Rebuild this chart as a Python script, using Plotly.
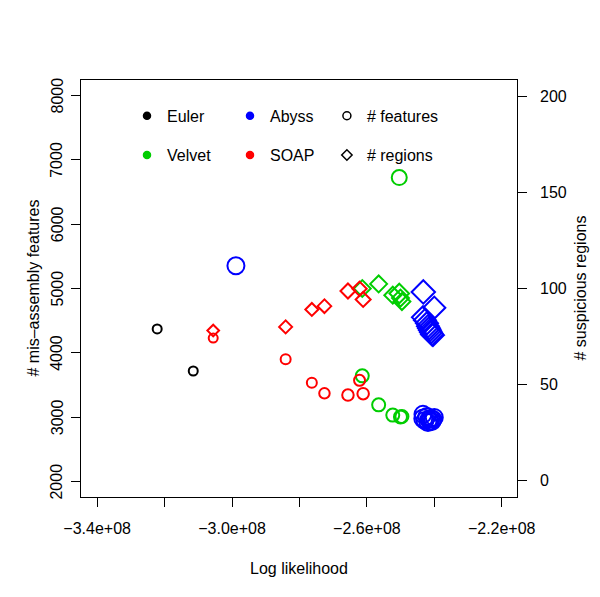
import plotly.graph_objects as go

# ---------------- data ----------------
# Log likelihood (x), # mis-assembly features (left axis), # suspicious regions (right axis)
euler_loglik = [-3.222e8, -3.115e8]
euler_features = [4372, 3718]
euler_regions = [None, None]
euler_size = [9, 9]

velvet_loglik = [-2.6136e8, -2.5650e8, -2.5231e8, -2.5039e8, -2.5003e8, -2.4960e8]
velvet_features = [3643, 3192, 3033, 6724, 3005, 3010]
velvet_regions = [100.0, 102.4, 96.5, 97.4, 95.0, 93.2]
velvet_size = [13, 13, 13, 15, 13, 13]

abyss_loglik = [-2.9884e8, -2.4326e8, -2.4000e8, -2.4335e8, -2.4276e8, -2.4217e8,
                -2.4187e8, -2.4157e8, -2.4128e8, -2.4098e8, -2.4068e8, -2.4039e8]
abyss_features = [5354, 2981, 2997, 3044, 2950, 3012, 2919, 2966, 2935, 2981, 2935, 2966]
abyss_regions = [None, 98.2, 90.0, 85.0, 83.5, 81.9, 80.4, 79.3, 78.3, 77.2, 76.2, 75.7]
abyss_size = [17, 18, 17, 17, 17, 17, 17, 17, 17, 17, 17, 17]

soap_loglik = [-3.0558e8, -2.8409e8, -2.7632e8, -2.7258e8, -2.6561e8, -2.6217e8, -2.6110e8]
soap_features = [4230, 3900, 3537, 3371, 3344, 3573, 3366]
soap_regions = [78.1, 80.0, 89.1, 90.8, 98.7, 99.9, 94.3]
soap_size = [9, 10, 10, 10.5, 11.5, 11, 11.5]

x_tickvals = [-3.4e8, -3.2e8, -3.0e8, -2.8e8, -2.6e8, -2.4e8, -2.2e8]
x_ticktext = ["\u22123.4e+08", "", "\u22123.0e+08", "", "\u22122.6e+08", "", "\u22122.2e+08"]
y_tickvals = [2000, 3000, 4000, 5000, 6000, 7000, 8000]
y2_tickvals = [0, 50, 100, 150, 200]

series = [
    ("Euler", "#000000", euler_loglik, euler_features, euler_regions, euler_size),
    ("Velvet", "#00CD00", velvet_loglik, velvet_features, velvet_regions, velvet_size),
    ("Abyss", "#0000FF", abyss_loglik, abyss_features, abyss_regions, abyss_size),
    ("SOAP", "#FF0000", soap_loglik, soap_features, soap_regions, soap_size),
]

FONT = "Liberation Sans, Arial, Helvetica, sans-serif"
fig = go.Figure()

for name, color, xs, feats, regs, sizes in series:
    fig.add_trace(go.Scatter(
        x=xs, y=feats, mode="markers", showlegend=False, yaxis="y",
        marker=dict(symbol="circle-open", size=sizes, color=color, opacity=1,
                    line=dict(width=2, color=color)),
        hoverinfo="skip"))
    fig.add_trace(go.Scatter(
        x=xs, y=regs, mode="markers", showlegend=False, yaxis="y2",
        marker=dict(symbol="diamond-open", size=sizes, color=color, opacity=1,
                    line=dict(width=2, color=color)),
        hoverinfo="skip"))

# legend entries
def leg(name, symbol, color, size, legend):
    fig.add_trace(go.Scatter(
        x=[None], y=[None], mode="markers", name=name, legend=legend,
        marker=dict(symbol=symbol, size=size, color=color, opacity=1,
                    line=dict(width=1.5, color=color))))

leg("Euler", "circle", "#000000", 7, "legend")
leg("Abyss", "circle", "#0000FF", 7, "legend")
leg("Velvet", "circle", "#00CD00", 7, "legend2")
leg("SOAP", "circle", "#FF0000", 7, "legend2")
leg("# features", "circle-open", "#000000", 8, "legend3")
leg("# regions", "diamond-open", "#000000", 8, "legend4")

legend_common = dict(orientation="h", xanchor="left", yanchor="middle",
                     font=dict(size=16, family=FONT, color="black"),
                     bgcolor="rgba(0,0,0,0)", itemsizing="trace")

# annotations for y tick labels and y axis titles
annotations = []
for v in y_tickvals:
    annotations.append(dict(x=0, xref="paper", y=v, yref="y", text=str(v),
                            textangle=-90, showarrow=False, xanchor="center",
                            yanchor="middle", xshift=-24,
                            font=dict(size=16, family=FONT, color="black")))
for v in y2_tickvals:
    annotations.append(dict(x=1, xref="paper", y=v, yref="y2", text=str(v),
                            showarrow=False, xanchor="left", yanchor="middle",
                            xshift=21, font=dict(size=16, family=FONT, color="black")))
annotations.append(dict(x=0, xref="paper", y=0.5, yref="paper",
                        text="# mis\u2013assembly features", textangle=-90,
                        showarrow=False, xanchor="center", yanchor="middle", xshift=-48,
                        font=dict(size=16, family=FONT, color="black")))
annotations.append(dict(x=1, xref="paper", y=0.5, yref="paper",
                        text="# suspicious regions", textangle=-90,
                        showarrow=False, xanchor="center", yanchor="middle", xshift=63,
                        font=dict(size=16, family=FONT, color="black")))

# page body has an 8px margin: figure is shrunk accordingly
fig.update_layout(
    width=592, height=589,
    margin=dict(l=73, r=83, t=72, b=100),
    paper_bgcolor="white", plot_bgcolor="white",
    font=dict(family=FONT, size=16, color="black"),
    legend=dict(x=0.1055, y=0.914, entrywidth=58, entrywidthmode="pixels", **legend_common),
    legend2=dict(x=0.1055, y=0.820, entrywidth=58, entrywidthmode="pixels", **legend_common),
    legend3=dict(x=0.564, y=0.914, entrywidth=110, entrywidthmode="pixels", **legend_common),
    legend4=dict(x=0.564, y=0.820, entrywidth=110, entrywidthmode="pixels", **legend_common),
    annotations=annotations,
    xaxis=dict(range=[-3.448e8, -2.1546e8], tickvals=x_tickvals, ticktext=x_ticktext,
               ticks="outside", ticklen=9, tickwidth=1, tickcolor="black",
               showline=True, linecolor="black", linewidth=1, mirror=True,
               showgrid=False, zeroline=False, automargin=False,
               ticklabelstandoff=8,
               title=dict(text="Log likelihood", font=dict(size=16), standoff=26)),
    yaxis=dict(range=[1760, 8240], tickvals=y_tickvals, showticklabels=False,
               ticks="outside", ticklen=9, tickwidth=1, tickcolor="black",
               showline=True, linecolor="black", linewidth=1, mirror=True,
               showgrid=False, zeroline=False, automargin=False),
    yaxis2=dict(range=[-8.6, 208.6], tickvals=y2_tickvals, overlaying="y", side="right",
                showticklabels=False,
                ticks="outside", ticklen=9, tickwidth=1, tickcolor="black",
                showline=True, linecolor="black", linewidth=1,
                showgrid=False, zeroline=False, automargin=False),
)

fig.write_html("out.html")
